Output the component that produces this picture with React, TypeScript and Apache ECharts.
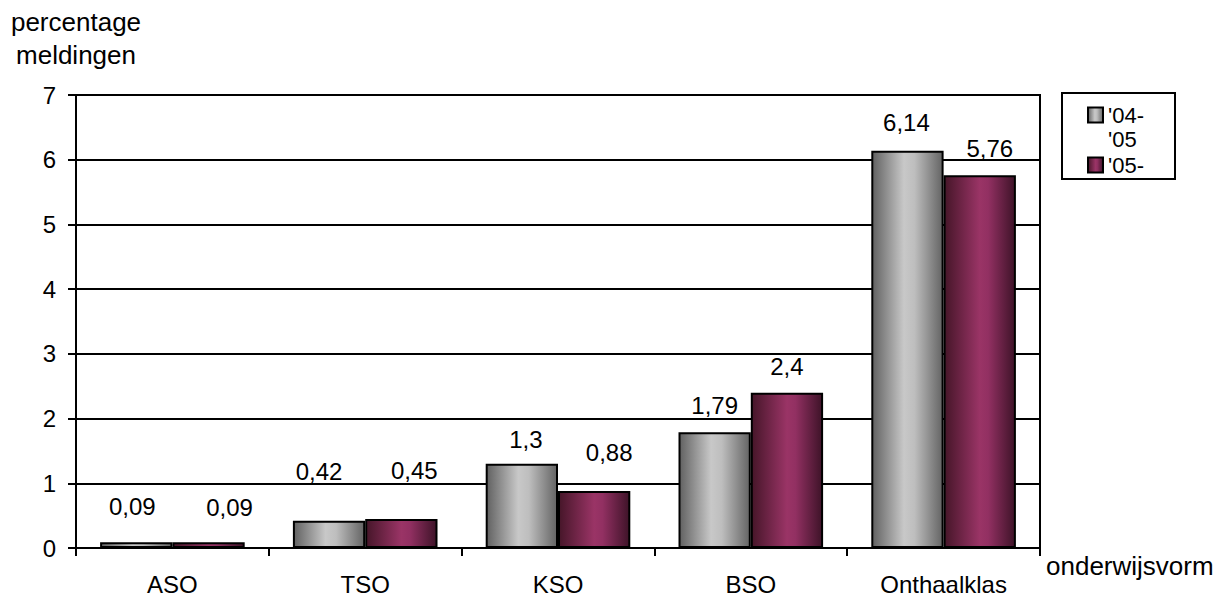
import React, { useEffect, useRef } from "react";
import * as echarts from "echarts";

const categories = ["ASO", "TSO", "KSO", "BSO", "Onthaalklas"];
const seriesNames = ["'04-'05", "'05-'06"];
const values0405 = [0.09, 0.42, 1.3, 1.79, 6.14];
const values0506 = [0.09, 0.45, 0.88, 2.4, 5.76];
const yTicks = { min: 0, max: 7, interval: 1 };
const yAxisTitle = "percentage\nmeldingen";
const xAxisTitle = "onderwijsvorm";

// label nudges (as positioned in the reference), kept apart from the data
const labelNudge0405 = [[-4, -19], [-10, -32], [4, -7], [0, -10], [-1, -11]];
const labelNudge0506 = [[21, -18], [13, -31], [15, -22], [0, -9], [10, -10]];

const FONT = "'Liberation Sans', Arial, sans-serif";

const grayGrad = new echarts.graphic.LinearGradient(0, 0, 1, 0, [
  { offset: 0, color: "#616161" },
  { offset: 0.45, color: "#c8c8c8" },
  { offset: 0.6, color: "#bebebe" },
  { offset: 1, color: "#646464" },
]);
const maroonGrad = new echarts.graphic.LinearGradient(0, 0, 1, 0, [
  { offset: 0, color: "#461629" },
  { offset: 0.5, color: "#9a3466" },
  { offset: 0.62, color: "#923062" },
  { offset: 1, color: "#3e1328" },
]);

const fmt = (v: number) => String(v).replace(".", ",");

export default function App() {
  const ref = useRef<HTMLDivElement>(null);
  useEffect(() => {
    if (!ref.current) return;
    const chart = echarts.init(ref.current, null, { renderer: "svg" });
    const mkData = (vals: number[], nudges: number[][]) =>
      vals.map((v, i) => ({ value: v, label: { offset: nudges[i] } }));
    const labelStyle = {
      show: true,
      position: "top",
      distance: 5,
      color: "#000",
      fontSize: 24,
      fontFamily: FONT,
      formatter: (p: any) => fmt(p.value),
    };
    chart.setOption({
      animation: false,
      backgroundColor: "#fff",
      textStyle: { fontFamily: FONT },
      grid: {
        left: 76,
        right: 177,
        top: 95,
        bottom: 48,
        show: true,
        borderColor: "#000",
        borderWidth: 2,
      },
      legend: [
        {
          data: [seriesNames[0]],
          orient: "vertical",
          left: 1087,
          top: 79,
          padding: 0,
          icon: "rect",
          itemWidth: 15,
          itemHeight: 15,
          itemGap: 0,
          // leading blank line keeps the icon level with the first text line
          formatter: (n: string) => "\n" + n.replace("-", "-\n"),
          textStyle: {
            fontSize: 22,
            lineHeight: 24,
            color: "#000",
            fontFamily: FONT,
          },
        },
        {
          data: [seriesNames[1]],
          orient: "vertical",
          left: 1087,
          top: 154,
          padding: 0,
          icon: "rect",
          itemWidth: 15,
          itemHeight: 15,
          formatter: (n: string) => n.split("-")[0] + "-",
          textStyle: {
            fontSize: 22,
            lineHeight: 22,
            color: "#000",
            fontFamily: FONT,
          },
        },
      ],
      graphic: [
        {
          type: "rect",
          shape: { x: 1062, y: 93, width: 113, height: 86 },
          style: { fill: "none", stroke: "#000", lineWidth: 2 },
          z: 100,
        },
      ],
      xAxis: {
        type: "category",
        data: categories,
        name: xAxisTitle,
        nameLocation: "end",
        nameGap: 6,
        nameTextStyle: {
          fontSize: 26,
          color: "#000",
          fontFamily: FONT,
          verticalAlign: "top",
          align: "left",
          padding: [5, 0, 0, 0],
        },
        axisLine: { lineStyle: { color: "#000", width: 2 } },
        axisTick: { show: true, length: 8, lineStyle: { color: "#000", width: 2 } },
        axisLabel: { color: "#000", fontSize: 24, margin: 24, fontFamily: FONT },
      },
      yAxis: {
        type: "value",
        min: yTicks.min,
        max: yTicks.max,
        interval: yTicks.interval,
        name: yAxisTitle,
        nameLocation: "end",
        nameGap: 24,
        nameTextStyle: {
          fontSize: 26,
          lineHeight: 33,
          color: "#000",
          fontFamily: FONT,
          align: "center",
        },
        axisLine: { show: true, lineStyle: { color: "#000", width: 2 } },
        axisTick: { show: true, length: 8, lineStyle: { color: "#000", width: 2 } },
        axisLabel: { color: "#000", fontSize: 24, margin: 20, fontFamily: FONT },
        splitLine: { show: true, lineStyle: { color: "#000", width: 2 } },
      },
      series: [
        {
          name: seriesNames[0],
          type: "bar",
          data: mkData(values0405, labelNudge0405),
          barGap: "0%",
          barCategoryGap: "25%",
          itemStyle: { color: grayGrad, borderColor: "#000", borderWidth: 2 },
          label: labelStyle,
        },
        {
          name: seriesNames[1],
          type: "bar",
          data: mkData(values0506, labelNudge0506),
          barGap: "0%",
          barCategoryGap: "25%",
          itemStyle: { color: maroonGrad, borderColor: "#000", borderWidth: 2 },
          label: labelStyle,
        },
      ],
    });
    return () => chart.dispose();
  }, []);
  return (
    <div
      ref={ref}
      style={{ position: "fixed", left: 0, top: 0, width: 1217, height: 596 }}
    />
  );
}
